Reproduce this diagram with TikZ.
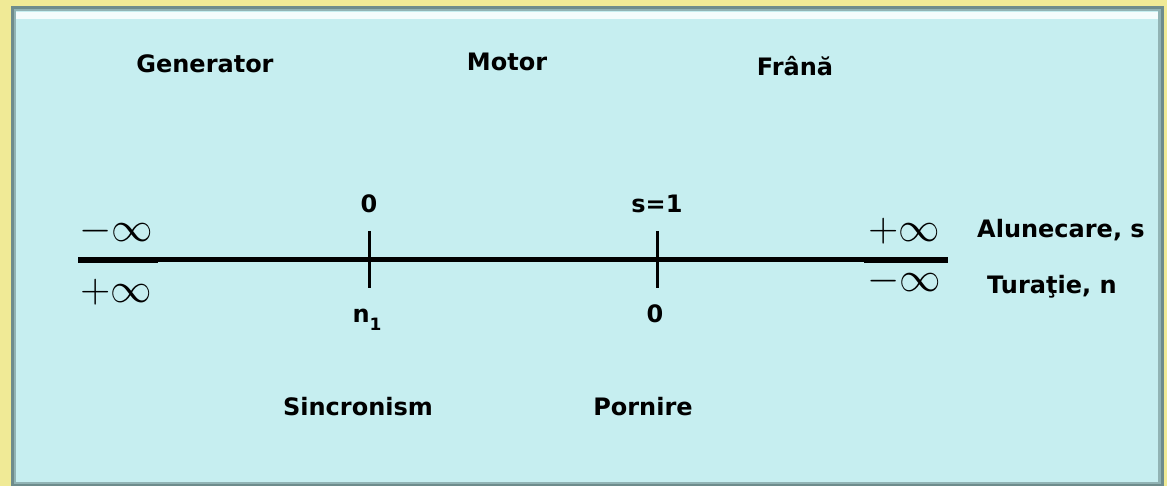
\documentclass[tikz,border=0pt]{standalone}
\usepackage{fontspec}
\usepackage{graphicx}
\setmainfont{DejaVu Sans}
\definecolor{bgyellow}{RGB}{240,234,150}
\definecolor{boxcyan}{RGB}{198,238,240}
\definecolor{boxedge}{RGB}{110,140,140}
\tikzset{
  lbl/.style={font=\fontsize{24}{28}\selectfont\bfseries, inner sep=0pt, anchor=base},
  num/.style={font=\fontsize{24}{28}\selectfont\bfseries, inner sep=0pt, anchor=base},
  inf/.style={font=\fontsize{20}{24}\selectfont, inner sep=0pt, anchor=base},
  axis/.style={line width=5pt},
  bar/.style={line width=6.5pt},
  tick/.style={line width=3pt}
}
\newcommand{\infsym}[1]{\scalebox{2}{$#1$}}
\begin{document}
\begin{tikzpicture}[x=1pt,y=-1pt]
\useasboundingbox (0,0) rectangle (1167,486);
% background
\fill[bgyellow] (0,0) rectangle (1167,486);
% box with bevel
\fill[boxedge] (11,6) rectangle (1164,486);
\fill[boxedge!60!boxcyan] (14,9) rectangle (1161,484);
\fill[boxcyan] (16,11) rectangle (1158,482);
\fill[white!80!boxcyan] (16,12) rectangle (1158,19);
% axis
\coordinate (La) at (78,260);
\coordinate (Lb) at (158,260);
\coordinate (Ra) at (864,260);
\coordinate (Rb) at (948,260);
\draw[axis] (Lb) -- (Ra);
\draw[bar] (La) -- (Lb);
\draw[bar] (Ra) -- (Rb);
% ticks
\coordinate (t1a) at (369,231);
\coordinate (t1b) at (369,288);
\coordinate (t2a) at (657,231);
\coordinate (t2b) at (657,288);
\draw[tick] (t1a) -- (t1b);
\draw[tick] (t2a) -- (t2b);
% region labels
\node[lbl] (gen) at (205,73) {Generator};
\node[lbl] (mot) at (507,71) {Motor};
\node[lbl] (fra) at (795,76) {Frână};
% tick labels
\node[num] (z1) at (369,213) {0};
\node[num] (s1) at (657,213) {s=1};
\node[num] (n1) at (367,323) {n\raisebox{-0.3em}{\fontsize{17}{20}\selectfont 1}};
\node[num] (z2) at (655,323) {0};
\node[lbl] (sinc) at (358,415) {Sincronism};
\node[lbl] (porn) at (643,415) {Pornire};
% infinities
\node[inf] (lmi) at (116,242) {\infsym{-\infty}};
\node[inf] (lpi) at (116,302) {\infsym{+\infty}};
\node[inf] (rpi) at (904,242) {\infsym{+\infty}};
\node[inf] (rmi) at (904,292) {\infsym{-\infty}};
% axis names
\node[lbl, anchor=base west] (alu) at (977,238) {Alunecare, s};
\node[lbl, anchor=base west] (tur) at (987,294) {Turaţie, n};
\end{tikzpicture}
\end{document}
